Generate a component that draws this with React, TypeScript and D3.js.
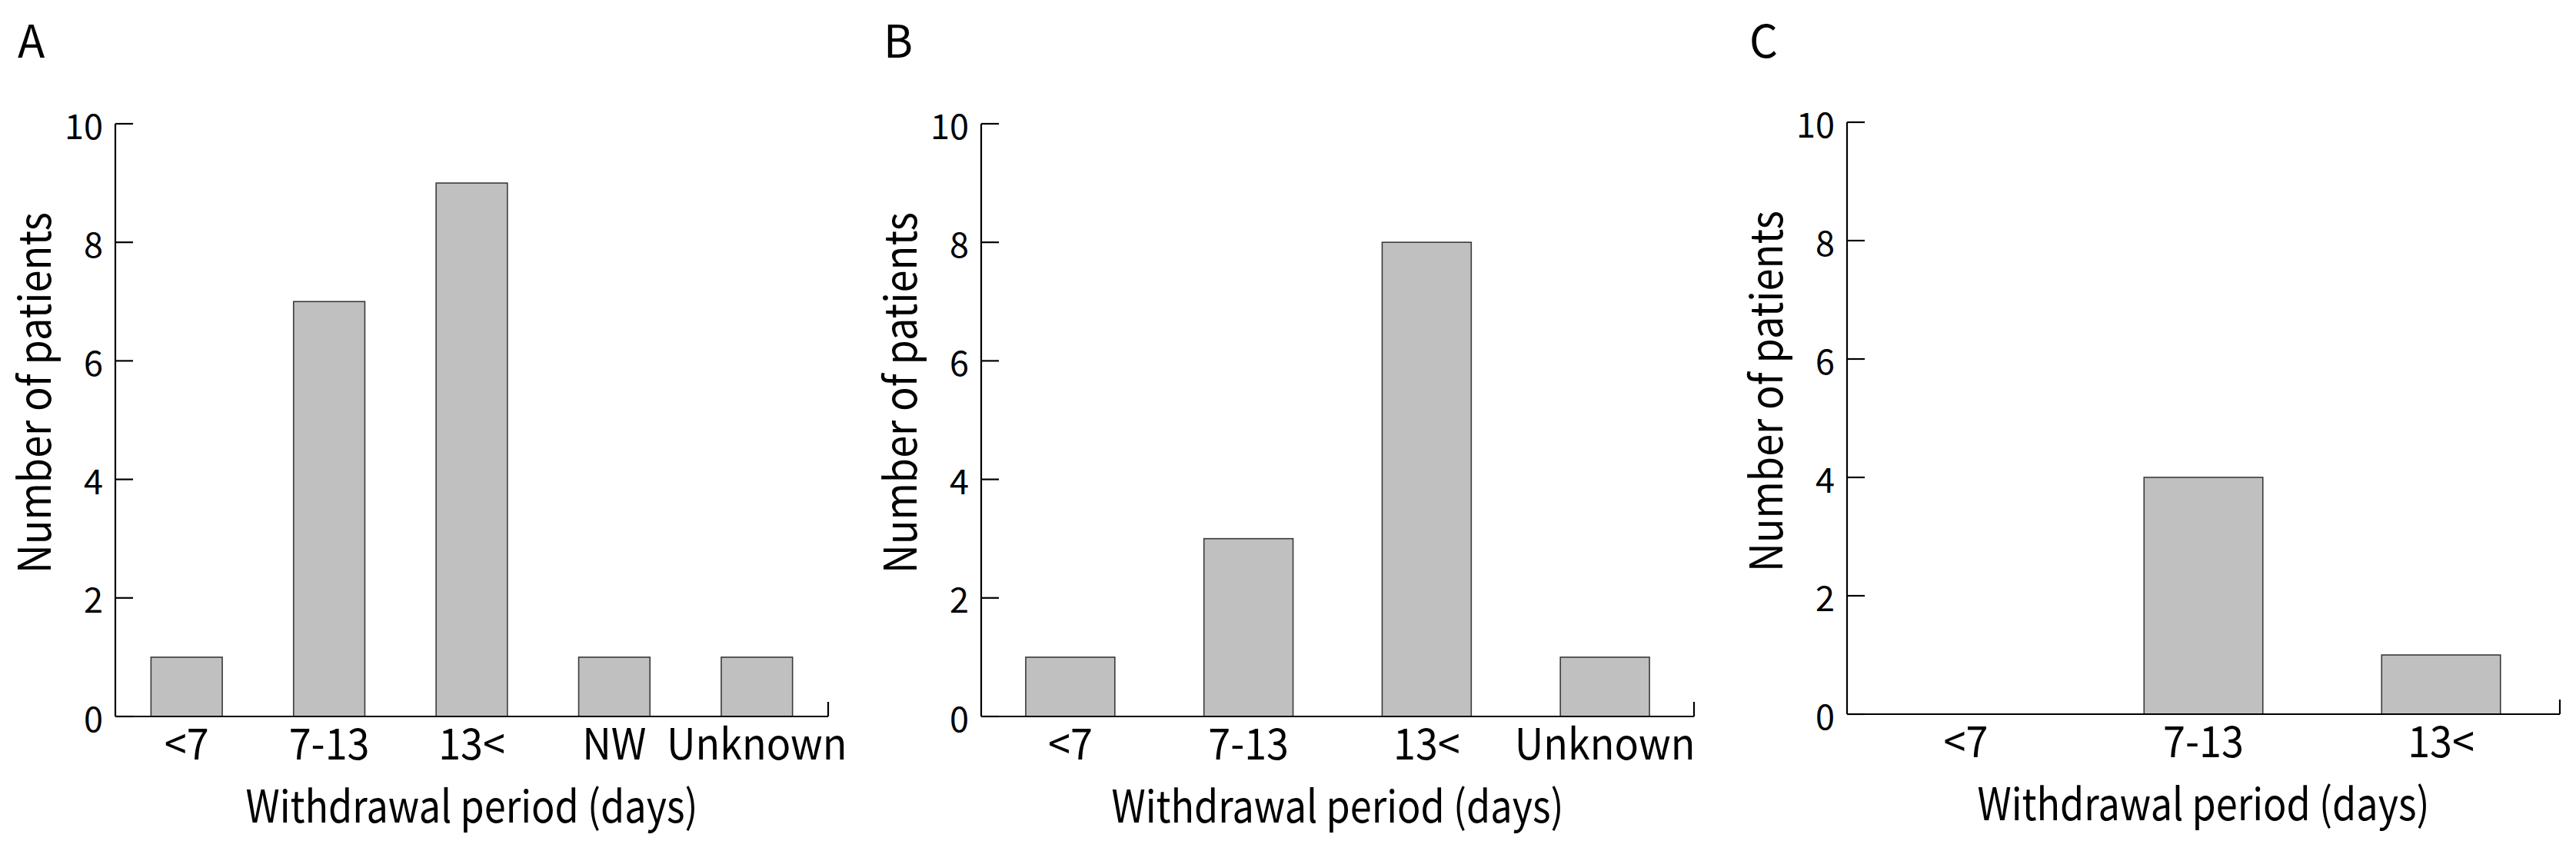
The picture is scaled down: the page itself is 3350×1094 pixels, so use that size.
import React from "react";
import * as d3 from "d3";

const panelLetters = ["A", "B", "C"];
const categoriesA = ["<7", "7-13", "13<", "NW", "Unknown"];
const valuesA = [1, 7, 9, 1, 1];
const categoriesB = ["<7", "7-13", "13<", "Unknown"];
const valuesB = [1, 3, 8, 1];
const categoriesC = ["<7", "7-13", "13<"];
const valuesC = [0, 4, 1];
const yTicks = [0, 2, 4, 6, 8, 10];
const yTitle = "Number of patients";
const xTitle = "Withdrawal period (days)";

const FONT = "'Noto Sans CJK JP', 'Noto Sans', sans-serif";

type PanelProps = {
  letter: string;
  cats: string[];
  vals: number[];
  x0: number;
  yTop: number;
  yZero: number;
};

function Panel({ letter, cats, vals, x0, yTop, yZero }: PanelProps) {
  const W = 927;
  const x = d3
    .scaleBand<string>()
    .domain(cats)
    .range([x0, x0 + W])
    .paddingInner(0.5)
    .paddingOuter(0.25);
  const y = d3.scaleLinear().domain([0, 10]).range([yZero, yTop]);
  const cx = x0 + W / 2;
  const yMid = yTop + 350;
  return (
    <g>
      <text x={x0 - 127} y={75} fontSize={58} fontFamily={FONT} fill="#000">
        {letter}
      </text>
      {cats.map((c, i) =>
        vals[i] > 0 ? (
          <rect
            key={c}
            x={x(c)}
            y={y(vals[i])}
            width={x.bandwidth()}
            height={y(0) - y(vals[i])}
            fill="#c0c0c0"
            stroke="#3a3a3a"
            strokeWidth={1.6}
          />
        ) : null
      )}
      {/* y axis */}
      <line x1={x0} x2={x0} y1={y(10)} y2={y(0)} stroke="#000" strokeWidth={2.2} />
      {yTicks.map((t) => (
        <g key={t}>
          <line x1={x0} x2={x0 + 23} y1={y(t)} y2={y(t)} stroke="#000" strokeWidth={2.2} />
          <text
            x={x0 - 16}
            y={y(t)}
            textAnchor="end"
            dominantBaseline="central"
            fontSize={45}
            fontFamily={FONT}
            fill="#000"
          >
            {t}
          </text>
        </g>
      ))}
      {/* x axis */}
      <line x1={x0} x2={x0 + W} y1={y(0)} y2={y(0)} stroke="#000" strokeWidth={2.2} />
      <line x1={x0 + W} x2={x0 + W} y1={y(0)} y2={y(0) - 19} stroke="#000" strokeWidth={2.2} />
      {cats.map((c) => (
        <text
          key={c}
          transform={`translate(${(x(c) as number) + x.bandwidth() / 2},${yZero + 56}) scale(0.93,1)`}
          textAnchor="middle"
          fontSize={56}
          fontFamily={FONT}
          fill="#000"
        >
          {c}
        </text>
      ))}
      <text
        x={cx}
        y={yZero + 138}
        textAnchor="middle"
        fontSize={58}
        fontFamily={FONT}
        fill="#000"
        textLength={588}
        lengthAdjust="spacingAndGlyphs"
      >
        {xTitle}
      </text>
      <text
        transform={`translate(${x0 - 84},${yMid}) rotate(-90)`}
        textAnchor="middle"
        fontSize={58}
        fontFamily={FONT}
        fill="#000"
        textLength={470}
        lengthAdjust="spacingAndGlyphs"
      >
        {yTitle}
      </text>
    </g>
  );
}

export default function App() {
  return (
    <svg
      width={3350}
      height={1094}
      style={{ position: "absolute", left: 0, top: 0, background: "#fff" }}
    >
      <rect width={3350} height={1094} fill="#fff" />
      <Panel letter={panelLetters[0]} cats={categoriesA} vals={valuesA} x0={150} yTop={161} yZero={932} />
      <Panel letter={panelLetters[1]} cats={categoriesB} vals={valuesB} x0={1276} yTop={161} yZero={932} />
      <Panel letter={panelLetters[2]} cats={categoriesC} vals={valuesC} x0={2402} yTop={159} yZero={929} />
    </svg>
  );
}
